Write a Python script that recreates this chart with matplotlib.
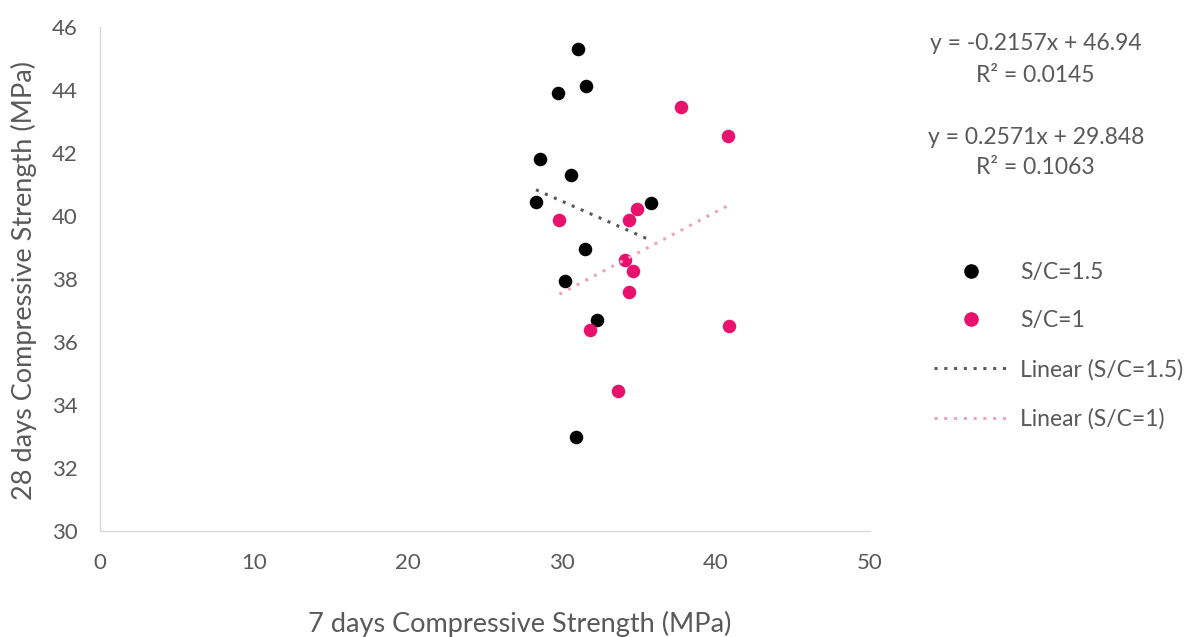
import matplotlib
matplotlib.use("Agg")
import matplotlib.pyplot as plt
import numpy as np
from matplotlib.lines import Line2D

plt.rcParams['font.family'] = ['Lato', 'DejaVu Sans']

# S/C = 1.5 series
x_sc15 = [31.06, 31.56, 29.74, 28.60, 30.56, 28.31, 35.78, 31.49, 30.17, 32.29, 30.89]
y_sc15 = [45.30, 44.14, 43.90, 41.81, 41.30, 40.45, 40.40, 38.94, 37.95, 36.70, 32.99]
# S/C = 1 series
x_sc1 = [37.71, 40.76, 29.83, 34.85, 34.35, 34.09, 34.63, 34.35, 31.80, 40.86, 33.61]
y_sc1 = [43.45, 42.55, 39.86, 40.21, 39.86, 38.60, 38.26, 37.60, 36.38, 36.50, 34.44]

# trendline coefficients (from chart labels)
slope15, icpt15, r2_15 = -0.2157, 46.94, 0.0145
slope1, icpt1, r2_1 = 0.2571, 29.848, 0.1063

x_ticks = [0, 10, 20, 30, 40, 50]
y_ticks = [30, 32, 34, 36, 38, 40, 42, 44, 46]

BLACK = '#000000'
PINK = '#E8126C'
TR15 = '#595959'
TR1 = '#EBA3C3'
GRAY = '#595959'

W, H = 1198, 637
fig = plt.figure(figsize=(W/100, H/100), dpi=100)
ax = fig.add_axes([100/W, 1-531/H, 770/W, 504/H])

ax.scatter(x_sc15, y_sc15, s=95, color=BLACK, zorder=3, linewidths=0)
ax.scatter(x_sc1, y_sc1, s=95, color=PINK, zorder=3, linewidths=0)

xx15 = np.array([min(x_sc15), max(x_sc15)])
ax.plot(xx15, slope15*xx15 + icpt15, linestyle=(0, (1, 2.2)), color=TR15, lw=2.2, zorder=4)
xx1 = np.array([min(x_sc1), max(x_sc1)])
ax.plot(xx1, slope1*xx1 + icpt1, linestyle=(0, (1, 2.2)), color=TR1, lw=2.2, zorder=4)

ax.set_xlim(0, 50)
ax.set_ylim(30, 46)
ax.set_xticks(x_ticks)
ax.set_yticks(y_ticks)
for s in ['top', 'right']:
    ax.spines[s].set_visible(False)
for s in ['left', 'bottom']:
    ax.spines[s].set_color('#D9D9D9')
    ax.spines[s].set_linewidth(1.0)
ax.tick_params(length=0, labelsize=16, labelcolor=GRAY)
ax.tick_params(axis='y', pad=16)
ax.tick_params(axis='x', pad=16)

fig.text(520/W, 1-632/H, '7 days Compressive Strength (MPa)', ha='center', va='baseline',
         fontsize=19.5, color=GRAY)
fig.text(24/W, 1-280/H, '28 days Compressive Strength (MPa)', ha='center', va='center',
         rotation=90, fontsize=19.5, color=GRAY)

EQ_FS = 16.5
fig.text(1036/W, 1-43/H, f'y = {slope15}x + {icpt15}', ha='center', va='center', fontsize=EQ_FS, color=GRAY)
fig.text(1035/W, 1-75/H, f'R² = {r2_15}', ha='center', va='center', fontsize=EQ_FS, color=GRAY)
fig.text(1036/W, 1-138/H, f'y = {slope1}x + {icpt1}', ha='center', va='center', fontsize=EQ_FS, color=GRAY)
fig.text(1035/W, 1-168/H, f'R² = {r2_1}', ha='center', va='center', fontsize=EQ_FS, color=GRAY)

handles = [
    Line2D([], [], marker='o', linestyle='none', color=BLACK, markersize=9.5),
    Line2D([], [], marker='o', linestyle='none', color=PINK, markersize=9.5),
    Line2D([], [], linestyle=(0, (1, 2.2)), color=TR15, lw=2.2),
    Line2D([], [], linestyle=(0, (1, 2.2)), color=TR1, lw=2.2),
]
labels = ['S/C=1.5', 'S/C=1', 'Linear (S/C=1.5)', 'Linear (S/C=1)']
leg = fig.legend(handles, labels, loc='upper left', bbox_to_anchor=(934/W, 1-262/H),
                 frameon=False, fontsize=EQ_FS, handlelength=3.2, labelspacing=1.2,
                 handletextpad=0.55, borderaxespad=0, borderpad=0)
for t in leg.get_texts():
    t.set_color(GRAY)

fig.savefig('out.png', dpi=100)
